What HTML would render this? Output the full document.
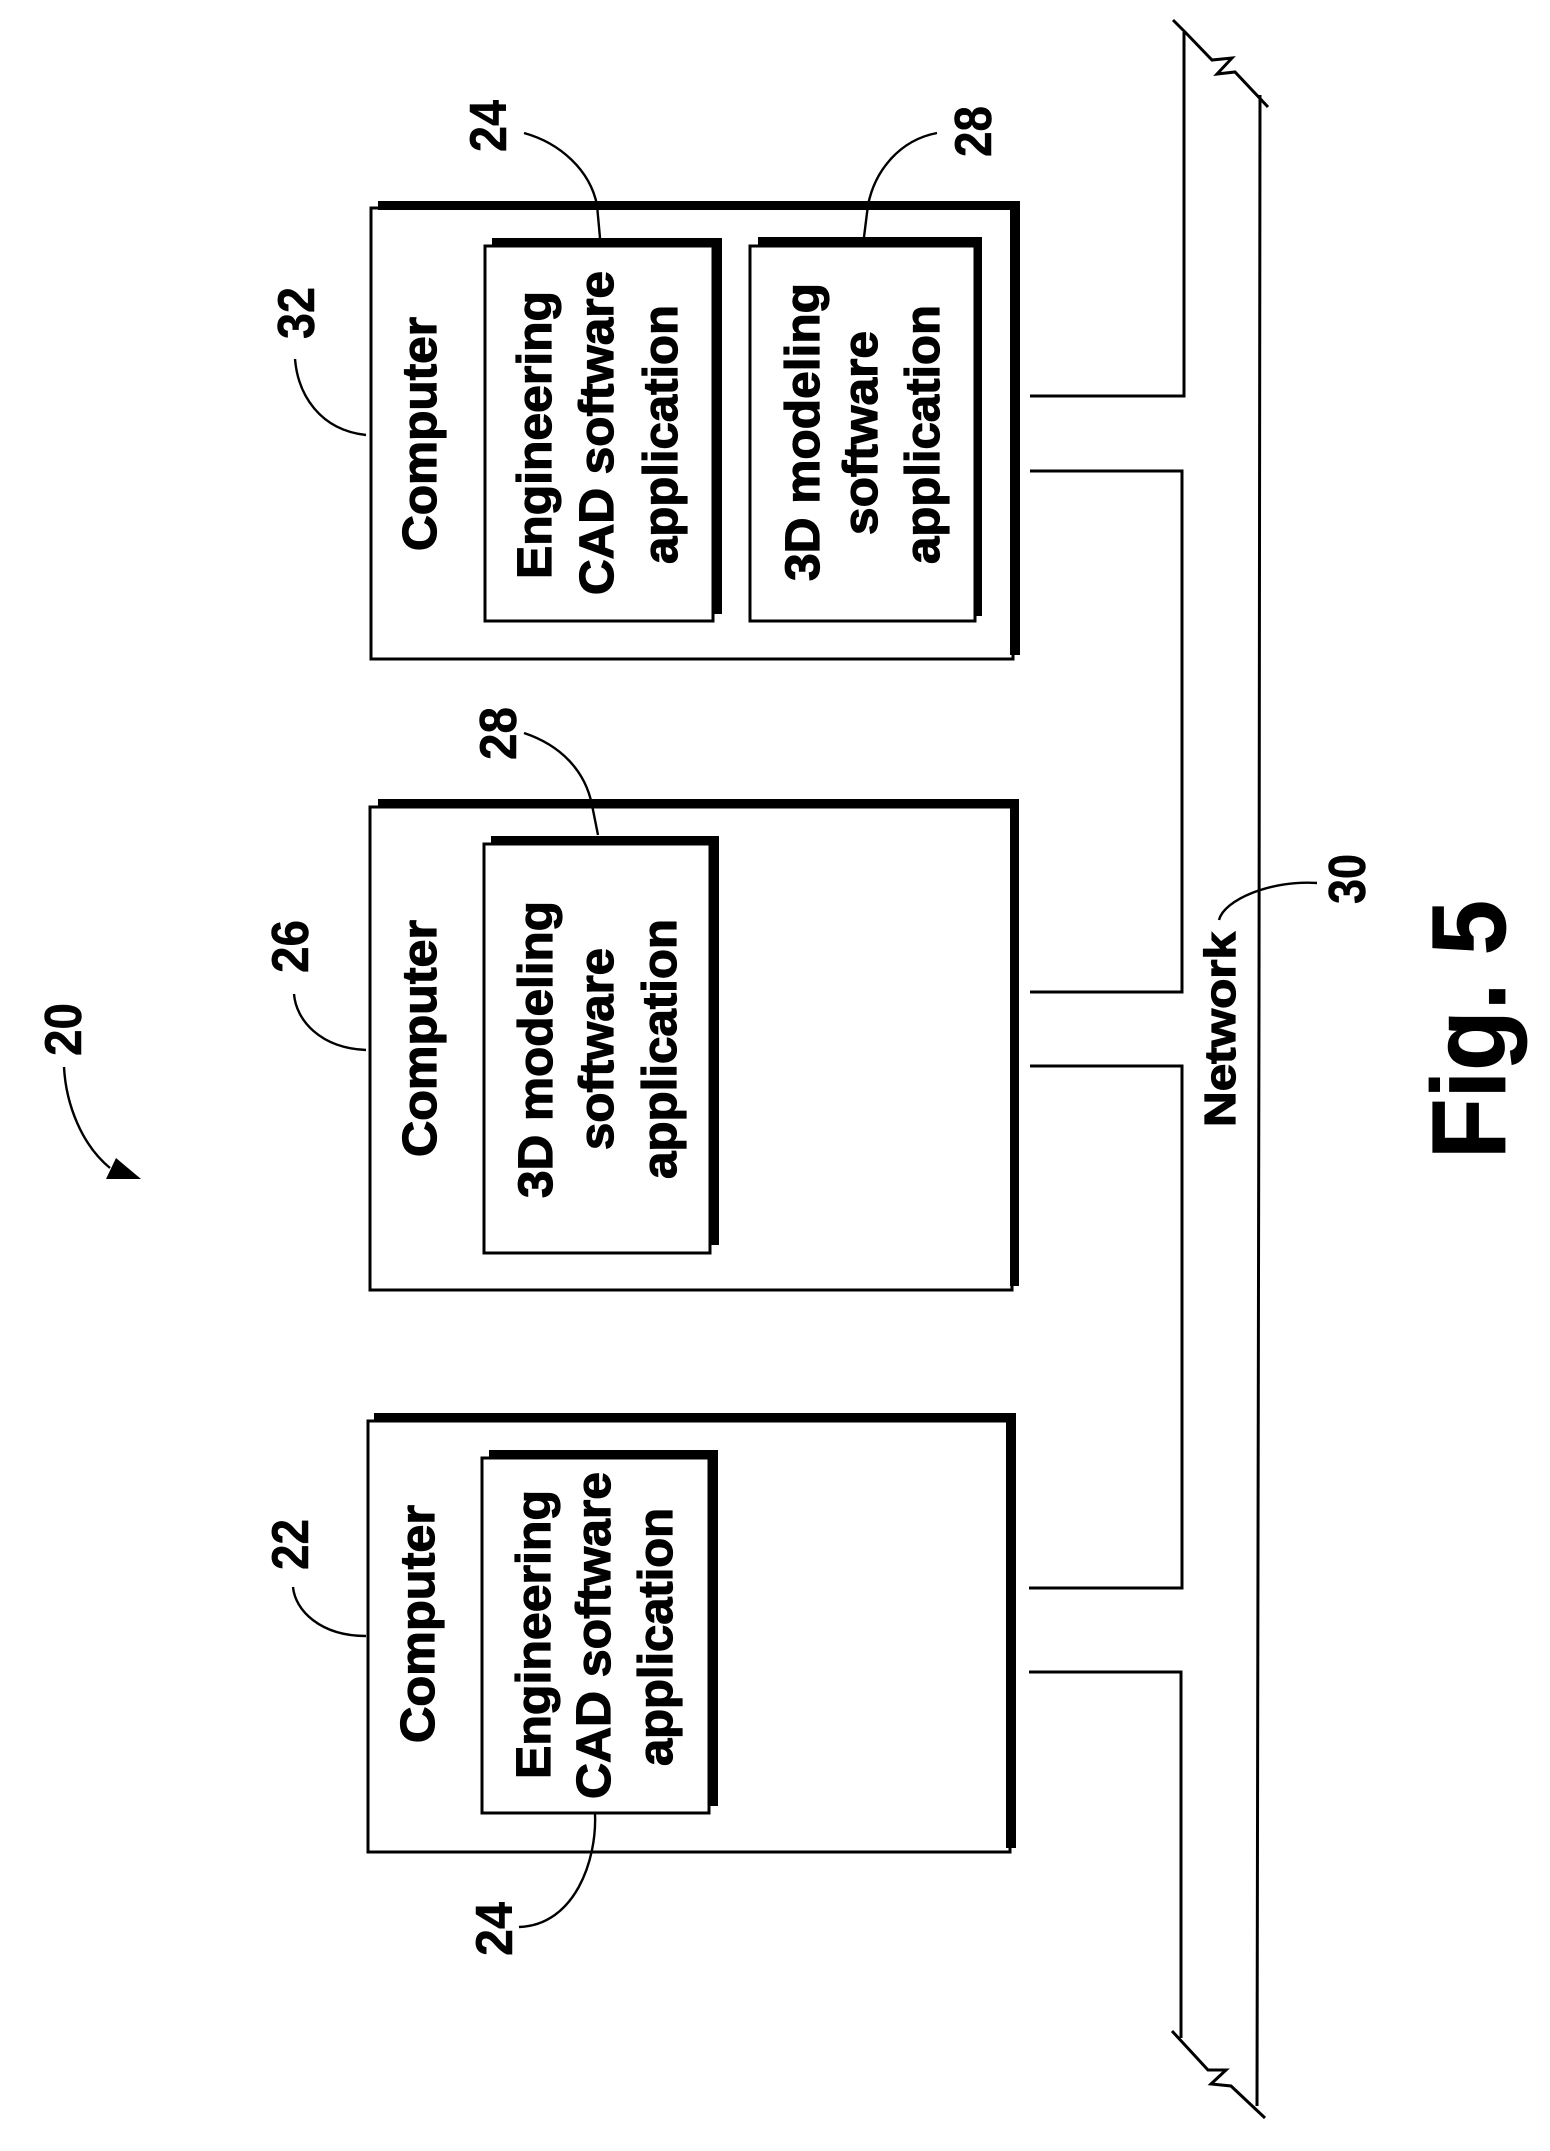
<!DOCTYPE html>
<html><head><meta charset="utf-8"><title>Fig. 5</title>
<style>
html,body{margin:0;padding:0;background:#fff;width:1550px;height:2151px;overflow:hidden}
svg{display:block}
text{font-family:"Liberation Sans",sans-serif;fill:#000;stroke:#000;stroke-width:1.2px}
.b{font-weight:bold;font-size:48px}
.n{font-size:52px;font-weight:bold;stroke-width:.5px}
.f{font-weight:bold;font-size:105px;stroke-width:.8px}
.l{fill:none;stroke:#000;stroke-width:3}
.t{fill:none;stroke:#000;stroke-width:2.4}
</style></head><body>
<svg width="1550" height="2151" viewBox="0 0 1550 2151" xmlns="http://www.w3.org/2000/svg">
<!-- Network bus -->
<path class="l" d="M1184 32V396H1030"/>
<path class="l" d="M1030 471H1182V992H1030"/>
<path class="l" d="M1030 1066H1182V1588H1029"/>
<path class="l" d="M1029 1672H1181V2038"/>
<path class="l" d="M1260 95L1259 1000L1257 2106"/>
<path class="l" d="M1173 20L1185 32L1212 60L1232 58L1217 74L1235 72L1268 107"/>
<path class="l" d="M1172 2031L1208 2070L1226 2070L1211 2084L1231 2086L1265 2118"/>

<!-- Computer 32 -->
<rect x="371" y="208" width="642" height="451" fill="#fff" class="l"/>
<path d="M378 201H1020V655H1010V210H378Z"/>
<rect x="485" y="246" width="228" height="375" fill="#fff" class="l"/>
<path d="M492 238H722V614H713V247H492Z"/>
<rect x="750" y="246" width="225" height="375" fill="#fff" class="l"/>
<path d="M758 237H982V616H974V247H758Z"/>
<text class="b" transform="translate(436 551) rotate(-90)" textLength="234" lengthAdjust="spacingAndGlyphs">Computer</text>
<text class="b" transform="translate(551 579) rotate(-90)" textLength="288" lengthAdjust="spacingAndGlyphs">Engineering</text>
<text class="b" transform="translate(613 595) rotate(-90)" textLength="324" lengthAdjust="spacingAndGlyphs">CAD software</text>
<text class="b" transform="translate(677 564) rotate(-90)" textLength="259" lengthAdjust="spacingAndGlyphs">application</text>
<text class="b" transform="translate(819 581) rotate(-90)" textLength="298" lengthAdjust="spacingAndGlyphs">3D modeling</text>
<text class="b" transform="translate(877 535) rotate(-90)" textLength="204" lengthAdjust="spacingAndGlyphs">software</text>
<text class="b" transform="translate(939 564) rotate(-90)" textLength="259" lengthAdjust="spacingAndGlyphs">application</text>
<text class="n" transform="translate(506 152) rotate(-90)" textLength="52" lengthAdjust="spacingAndGlyphs">24</text>
<text class="n" transform="translate(991 157) rotate(-90)" textLength="51" lengthAdjust="spacingAndGlyphs">28</text>
<text class="n" transform="translate(314 339) rotate(-90)" textLength="52" lengthAdjust="spacingAndGlyphs">32</text>
<path class="t" d="M524 133C560 143 590 170 597 205L600 238"/>
<path class="t" d="M937 133C900 140 875 170 868 205L864 237"/>
<path class="t" d="M295 359C298 395 320 430 366 435"/>

<!-- Computer 26 -->
<rect x="370" y="807" width="642" height="483" fill="#fff" class="l"/>
<path d="M378 799H1019V1286H1010V808H378Z"/>
<rect x="484" y="844" width="226" height="409" fill="#fff" class="l"/>
<path d="M491 836H719V1245H710V845H491Z"/>
<text class="b" transform="translate(436 1157) rotate(-90)" textLength="237" lengthAdjust="spacingAndGlyphs">Computer</text>
<text class="b" transform="translate(552 1198) rotate(-90)" textLength="297" lengthAdjust="spacingAndGlyphs">3D modeling</text>
<text class="b" transform="translate(613 1150) rotate(-90)" textLength="202" lengthAdjust="spacingAndGlyphs">software</text>
<text class="b" transform="translate(676 1179) rotate(-90)" textLength="260" lengthAdjust="spacingAndGlyphs">application</text>
<text class="n" transform="translate(516 760) rotate(-90)" textLength="53" lengthAdjust="spacingAndGlyphs">28</text>
<text class="n" transform="translate(308 973) rotate(-90)" textLength="53" lengthAdjust="spacingAndGlyphs">26</text>
<text class="n" transform="translate(81 1056) rotate(-90)" textLength="53" lengthAdjust="spacingAndGlyphs">20</text>
<path class="t" d="M524 733C560 745 585 770 592 805L598 835"/>
<path class="t" d="M294 994C296 1020 320 1048 366 1050"/>
<path class="t" d="M64 1067C66 1105 82 1145 110 1168"/>
<path d="M116 1158L106 1179L141 1179Z"/>

<!-- Computer 22 -->
<rect x="368" y="1421" width="642" height="431" fill="#fff" class="l"/>
<path d="M374 1413H1016V1848H1006V1422H374Z"/>
<rect x="482" y="1458" width="227" height="355" fill="#fff" class="l"/>
<path d="M489 1450H718V1806H709V1459H489Z"/>
<text class="b" transform="translate(434 1743) rotate(-90)" textLength="238" lengthAdjust="spacingAndGlyphs">Computer</text>
<text class="b" transform="translate(550 1779) rotate(-90)" textLength="289" lengthAdjust="spacingAndGlyphs">Engineering</text>
<text class="b" transform="translate(610 1799) rotate(-90)" textLength="327" lengthAdjust="spacingAndGlyphs">CAD software</text>
<text class="b" transform="translate(672 1766) rotate(-90)" textLength="258" lengthAdjust="spacingAndGlyphs">application</text>
<text class="n" transform="translate(308 1570) rotate(-90)" textLength="51" lengthAdjust="spacingAndGlyphs">22</text>
<text class="n" transform="translate(512 1956) rotate(-90)" textLength="54" lengthAdjust="spacingAndGlyphs">24</text>
<path class="t" d="M293 1587C295 1610 320 1636 366 1636"/>
<path class="t" d="M595 1814C597 1860 575 1925 519 1927"/>

<!-- Network label -->
<text class="b" transform="translate(1235 1127) rotate(-90)" textLength="195" lengthAdjust="spacingAndGlyphs" style="font-size:44px">Network</text>
<text class="n" transform="translate(1365 904) rotate(-90)" textLength="50" lengthAdjust="spacingAndGlyphs">30</text>
<path class="t" d="M1317 883C1270 880 1224 900 1219 920"/>

<!-- Figure caption -->
<text class="f" transform="translate(1505 1159) rotate(-90)" textLength="259" lengthAdjust="spacingAndGlyphs">Fig. 5</text>
</svg>
</body></html>
